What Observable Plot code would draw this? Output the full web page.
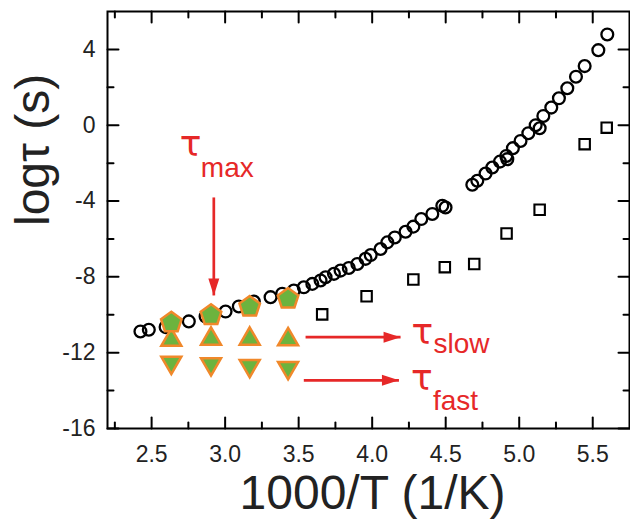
<!DOCTYPE html>
<html><head><meta charset="utf-8">
<script src="https://cdn.jsdelivr.net/npm/d3@7"></script>
<script src="https://cdn.jsdelivr.net/npm/@observablehq/plot@0.6"></script>
<style>
body{margin:0;background:#fff;}
#chart{width:630px;height:523px;}
</style></head><body><div id="chart"></div>
<script>
// open circles: log tau vs 1000/T
const circleX = [2.424,2.481,2.595,2.753,2.867,3.003,3.093,3.195,3.309,3.388,3.467,3.535,3.593,3.649,3.683,3.74,3.785,3.841,3.899,3.955,3.99,4.057,4.103,4.154,4.227,4.28,4.334,4.409,4.477,4.499,4.681,4.715,4.771,4.817,4.869,4.912,4.919,4.957,5.009,5.062,5.112,5.139,5.164,5.218,5.27,5.327,5.386,5.445,5.538,5.599];
const circleY = [-10.88,-10.79,-10.65,-10.35,-10.09,-9.83,-9.56,-9.30,-9.07,-8.89,-8.72,-8.55,-8.37,-8.19,-8.02,-7.84,-7.67,-7.53,-7.32,-7.05,-6.85,-6.53,-6.18,-5.92,-5.62,-5.35,-4.95,-4.68,-4.25,-4.34,-3.14,-2.93,-2.55,-2.23,-1.92,-1.62,-1.79,-1.21,-0.83,-0.42,0.0,-0.16,0.49,0.93,1.42,1.95,2.56,3.12,3.96,4.79];
// open squares
const squareX = [3.66,3.962,4.28,4.494,4.694,4.914,5.139,5.445,5.595];
const squareY = [-9.98,-9.02,-8.14,-7.49,-7.32,-5.71,-4.46,-1.0,-0.13];
// fitted tau values (green symbols)
const fitX = [2.634,2.904,3.167,3.428];
const tauMaxY = [-10.41,-10.02,-9.58,-9.16];
const tauSlowY = [-11.18,-11.12,-11.12,-11.15];
const tauFastY = [-12.67,-12.75,-12.84,-12.95];
// axes
const xMajor = [2.5,3.0,3.5,4.0,4.5,5.0,5.5];
const xMinor = [2.25,2.75,3.25,3.75,4.25,4.75,5.25];
const yMajor = [4,0,-4,-8,-12,-16];
const yMinor = [2,-2,-6,-10,-14];
const xLabel = "1000/T (1/K)";
const yLabel = "logτ (s)";
// annotation arrows
const arrowNames = ["max","slow","fast"];
const arrowX1 = [2.923,3.547,3.535];
const arrowY1 = [-3.81,-11.18,-13.46];
const arrowX2 = [2.923,4.193,4.182];
const arrowY2 = [-8.98,-11.18,-13.46];

const RED = "#e62828", GREEN = "#6cb33e", ORANGE = "#f0882a";
const circles = circleX.map((x,i)=>({x, y: circleY[i]}));
const squares = squareX.map((x,i)=>({x, y: squareY[i]}));
const fMax = fitX.map((x,i)=>({x, y: tauMaxY[i]}));
const fSlow = fitX.map((x,i)=>({x, y: tauSlowY[i]}));
const fFast = fitX.map((x,i)=>({x, y: tauFastY[i]}));
const arrows = arrowNames.map((name,i)=>({name, x1: arrowX1[i], y1: arrowY1[i], x2: arrowX2[i], y2: arrowY2[i]}));

const pentagon = {draw(ctx, size){ const r = Math.sqrt(size/Math.PI);
  for (let i=0;i<5;i++){ const a = -Math.PI/2 + i*2*Math.PI/5; const px=r*Math.cos(a), py=r*Math.sin(a); if(i) ctx.lineTo(px,py); else ctx.moveTo(px,py);} ctx.closePath(); }};
const triUp = {draw(ctx, size){ const r = Math.sqrt(size/Math.PI), h = r*1.732;
  ctx.moveTo(0,-h/2); ctx.lineTo(r,h/2); ctx.lineTo(-r,h/2); ctx.closePath(); }};
const triDown = {draw(ctx, size){ const r = Math.sqrt(size/Math.PI), h = r*1.732;
  ctx.moveTo(0,h/2); ctx.lineTo(r,-h/2); ctx.lineTo(-r,-h/2); ctx.closePath(); }};

const tickUp = {draw(c,l){c.moveTo(0,0);c.lineTo(0,-l);}};
const tickDown = {draw(c,l){c.moveTo(0,0);c.lineTo(0,l);}};
const tickRight = {draw(c,l){c.moveTo(0,0);c.lineTo(l,0);}};
const tickLeft = {draw(c,l){c.moveTo(0,0);c.lineTo(-l,0);}};
const head = {draw(c,l,r){c.moveTo(0,0);c.lineTo(r,l);c.lineTo(-r,l);c.closePath();}};

function ticks(){
  const m = [];
  for (const [arr,len] of [[xMajor,11],[xMinor,6]]){
    m.push(Plot.vector(arr,{x:d=>d, frameAnchor:"bottom", length:len, shape:tickUp, anchor:"start", stroke:"black", strokeWidth:2}));
    m.push(Plot.vector(arr,{x:d=>d, frameAnchor:"top", length:len, shape:tickDown, anchor:"start", stroke:"black", strokeWidth:2}));
  }
  for (const [arr,len] of [[yMajor,11],[yMinor,6]]){
    m.push(Plot.vector(arr,{y:d=>d, frameAnchor:"left", length:len, shape:tickRight, anchor:"start", stroke:"black", strokeWidth:2}));
    m.push(Plot.vector(arr,{y:d=>d, frameAnchor:"right", length:len, shape:tickLeft, anchor:"start", stroke:"black", strokeWidth:2}));
  }
  return m;
}

const textOff = {
  max: {end:false, tau:[-34,-41], sub:[-13,-20]},
  slow:{end:true, tau:[11,7], sub:[33,16]},
  fast:{end:true, tau:[12,10], sub:[34,30]}
};
function annotations(){
  const m = [];
  m.push(Plot.link(arrows,{x1:"x1",y1:"y1",x2:"x2",y2:"y2", stroke:RED, strokeWidth:2.7}));
  m.push(Plot.vector(arrows,{x:"x2", y:"y2", rotate:d=> d.y1===d.y2 ? 90 : 180, length:17, r:5.5, shape:head, anchor:"start", fill:RED, stroke:"none"}));
  for (const a of arrows){
    const o = textOff[a.name];
    const px = o.end ? a.x2 : a.x1, py = o.end ? a.y2 : a.y1;
    m.push(Plot.text([a],{x:()=>px, y:()=>py, text:()=>"τ", dx:o.tau[0], dy:o.tau[1], textAnchor:"start", lineAnchor:"bottom", fontSize:36, fontFamily:"'DejaVu Sans', sans-serif", fill:RED}));
    m.push(Plot.text([a],{x:()=>px, y:()=>py, text:d=>d.name, dx:o.sub[0], dy:o.sub[1], textAnchor:"start", lineAnchor:"bottom", fontSize:28, fill:RED}));
  }
  return m;
}

const chart = Plot.plot({
  width:630, height:523,
  marginLeft:107, marginRight:1, marginTop:11, marginBottom:95,
  x:{domain:[2.2,5.75]},
  y:{domain:[-16,6]},
  style:{fontFamily:"'Liberation Sans', Arial, sans-serif", background:"white", color:"#222"},
  marks:[
    Plot.axisX({anchor:"bottom", ticks:xMajor, tickSize:0, tickPadding:17, fontSize:23, tickFormat:d3.format(".1f"), label:null}),
    Plot.axisY({anchor:"left", ticks:yMajor, tickSize:0, tickPadding:12, fontSize:23, tickFormat:d=>String(d), label:null}),
    Plot.text([xLabel],{frameAnchor:"bottom", text:d=>d, dx:4, dy:80, lineAnchor:"bottom", fontSize:48, fill:"#222"}),
    Plot.text([yLabel],{frameAnchor:"left", text:d=>d, rotate:-90, dx:-59, dy:6, lineAnchor:"bottom", fontSize:48, fill:"#222"}),
    Plot.dot(circles,{x:"x", y:"y", r:5.9, stroke:"black", strokeWidth:2.3, fill:"none"}),
    Plot.dot(squares,{x:"x", y:"y", r:5.9, symbol:"square", stroke:"black", strokeWidth:2.1, fill:"none"}),
    Plot.dot(fSlow,{x:"x", y:"y", r:10, symbol:triUp, fill:GREEN, stroke:ORANGE, strokeWidth:2.5}),
    Plot.dot(fFast,{x:"x", y:"y", r:10, symbol:triDown, fill:GREEN, stroke:ORANGE, strokeWidth:2.5}),
    Plot.dot(fMax,{x:"x", y:"y", r:10.8, symbol:pentagon, fill:GREEN, stroke:ORANGE, strokeWidth:2.5}),
    ...annotations(),
    ...ticks(),
    Plot.frame({stroke:"black", strokeWidth:2})
  ]
});
document.getElementById("chart").append(chart);
</script></body></html>
